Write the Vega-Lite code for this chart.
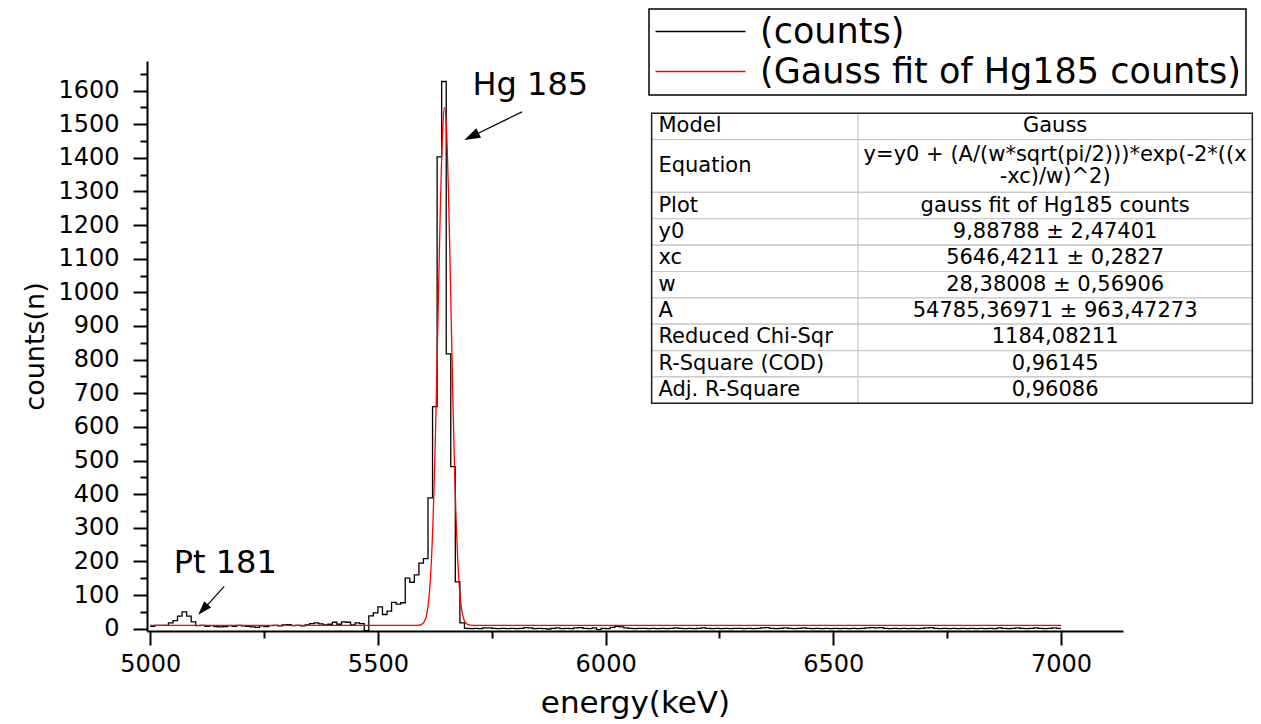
{
  "$schema": "https://vega.github.io/schema/vega-lite/v6.json",
  "width": 976,
  "height": 570,
  "autosize": {"type": "none"},
  "padding": {"left": 147, "top": 61, "right": 138, "bottom": 93},
  "background": "white",
  "config": {
    "view": {"stroke": null},
    "font": "DejaVu Sans",
    "axis": {
      "grid": false,
      "domainColor": "#000",
      "domainWidth": 2,
      "tickColor": "#000",
      "tickWidth": 2,
      "labelFont": "DejaVu Sans",
      "labelFontSize": 24,
      "labelColor": "#000",
      "labelOverlap": false,
      "labelFlush": false,
      "titleFont": "DejaVu Sans",
      "titleFontWeight": "normal",
      "titleColor": "#000"
    },
    "legend": {"strokeWidth": 1.5}
  },
  "datasets": {
    "counts": [
      {"energy": 5000, "counts": 7}, {"energy": 5010, "counts": 10}, {"energy": 5020, "counts": 10}, {"energy": 5030, "counts": 10}, {"energy": 5040, "counts": 17},
      {"energy": 5050, "counts": 24}, {"energy": 5060, "counts": 37}, {"energy": 5070, "counts": 50}, {"energy": 5080, "counts": 37}, {"energy": 5090, "counts": 20},
      {"energy": 5100, "counts": 9}, {"energy": 5110, "counts": 10}, {"energy": 5120, "counts": 7}, {"energy": 5130, "counts": 9}, {"energy": 5140, "counts": 6},
      {"energy": 5150, "counts": 5}, {"energy": 5160, "counts": 6}, {"energy": 5170, "counts": 9}, {"energy": 5180, "counts": 7}, {"energy": 5190, "counts": 10},
      {"energy": 5200, "counts": 8}, {"energy": 5210, "counts": 7}, {"energy": 5220, "counts": 5}, {"energy": 5230, "counts": 4}, {"energy": 5240, "counts": 8},
      {"energy": 5250, "counts": 6}, {"energy": 5260, "counts": 9}, {"energy": 5270, "counts": 10}, {"energy": 5280, "counts": 8}, {"energy": 5290, "counts": 11},
      {"energy": 5300, "counts": 12}, {"energy": 5310, "counts": 9}, {"energy": 5320, "counts": 10}, {"energy": 5330, "counts": 8}, {"energy": 5340, "counts": 11},
      {"energy": 5350, "counts": 15}, {"energy": 5360, "counts": 17}, {"energy": 5370, "counts": 14}, {"energy": 5380, "counts": 11}, {"energy": 5390, "counts": 13},
      {"energy": 5400, "counts": 19}, {"energy": 5410, "counts": 13}, {"energy": 5420, "counts": 20}, {"energy": 5430, "counts": 19}, {"energy": 5440, "counts": 11},
      {"energy": 5450, "counts": 17}, {"energy": 5460, "counts": 15}, {"energy": 5470, "counts": -6}, {"energy": 5480, "counts": 38}, {"energy": 5490, "counts": 47},
      {"energy": 5500, "counts": 65}, {"energy": 5510, "counts": 42}, {"energy": 5520, "counts": 52}, {"energy": 5530, "counts": 78}, {"energy": 5540, "counts": 73},
      {"energy": 5550, "counts": 77}, {"energy": 5560, "counts": 150}, {"energy": 5570, "counts": 138}, {"energy": 5580, "counts": 160}, {"energy": 5590, "counts": 195},
      {"energy": 5600, "counts": 208}, {"energy": 5610, "counts": 389}, {"energy": 5620, "counts": 660}, {"energy": 5630, "counts": 1403}, {"energy": 5640, "counts": 1627},
      {"energy": 5650, "counts": 817}, {"energy": 5660, "counts": 482}, {"energy": 5670, "counts": 139}, {"energy": 5680, "counts": 17}, {"energy": 5690, "counts": 1},
      {"energy": 5700, "counts": 0}, {"energy": 5710, "counts": 1}, {"energy": 5720, "counts": 0}, {"energy": 5730, "counts": 2}, {"energy": 5740, "counts": 2},
      {"energy": 5750, "counts": 1}, {"energy": 5760, "counts": 0}, {"energy": 5770, "counts": 1}, {"energy": 5780, "counts": 0}, {"energy": 5790, "counts": 1},
      {"energy": 5800, "counts": 0}, {"energy": 5810, "counts": 1}, {"energy": 5820, "counts": 3}, {"energy": 5830, "counts": 2}, {"energy": 5840, "counts": 0},
      {"energy": 5850, "counts": 1}, {"energy": 5860, "counts": 0}, {"energy": 5870, "counts": -1}, {"energy": 5880, "counts": 1}, {"energy": 5890, "counts": 2},
      {"energy": 5900, "counts": 0}, {"energy": 5910, "counts": 1}, {"energy": 5920, "counts": 0}, {"energy": 5930, "counts": 2}, {"energy": 5940, "counts": 3},
      {"energy": 5950, "counts": 1}, {"energy": 5960, "counts": 0}, {"energy": 5970, "counts": 2}, {"energy": 5980, "counts": -3}, {"energy": 5990, "counts": 1},
      {"energy": 6000, "counts": 0}, {"energy": 6010, "counts": 4}, {"energy": 6020, "counts": 7}, {"energy": 6030, "counts": 5}, {"energy": 6040, "counts": 2},
      {"energy": 6050, "counts": 1}, {"energy": 6060, "counts": 0}, {"energy": 6070, "counts": 1}, {"energy": 6080, "counts": 1}, {"energy": 6090, "counts": 0},
      {"energy": 6100, "counts": 1}, {"energy": 6110, "counts": 0}, {"energy": 6120, "counts": 1}, {"energy": 6130, "counts": 0}, {"energy": 6140, "counts": 1},
      {"energy": 6150, "counts": 2}, {"energy": 6160, "counts": 1}, {"energy": 6170, "counts": 0}, {"energy": 6180, "counts": 1}, {"energy": 6190, "counts": 0},
      {"energy": 6200, "counts": 1}, {"energy": 6210, "counts": 2}, {"energy": 6220, "counts": 1}, {"energy": 6230, "counts": 0}, {"energy": 6240, "counts": 1},
      {"energy": 6250, "counts": 0}, {"energy": 6260, "counts": 1}, {"energy": 6270, "counts": 0}, {"energy": 6280, "counts": 1}, {"energy": 6290, "counts": 1},
      {"energy": 6300, "counts": 0}, {"energy": 6310, "counts": 1}, {"energy": 6320, "counts": 0}, {"energy": 6330, "counts": 1}, {"energy": 6340, "counts": 2},
      {"energy": 6350, "counts": 3}, {"energy": 6360, "counts": 1}, {"energy": 6370, "counts": 0}, {"energy": 6380, "counts": 1}, {"energy": 6390, "counts": 2},
      {"energy": 6400, "counts": 1}, {"energy": 6410, "counts": 0}, {"energy": 6420, "counts": 1}, {"energy": 6430, "counts": 2}, {"energy": 6440, "counts": 1},
      {"energy": 6450, "counts": 0}, {"energy": 6460, "counts": 1}, {"energy": 6470, "counts": 0}, {"energy": 6480, "counts": 1}, {"energy": 6490, "counts": 0},
      {"energy": 6500, "counts": 1}, {"energy": 6510, "counts": 0}, {"energy": 6520, "counts": 1}, {"energy": 6530, "counts": 0}, {"energy": 6540, "counts": 1},
      {"energy": 6550, "counts": 0}, {"energy": 6560, "counts": 1}, {"energy": 6570, "counts": 2}, {"energy": 6580, "counts": 3}, {"energy": 6590, "counts": 2},
      {"energy": 6600, "counts": 3}, {"energy": 6610, "counts": 1}, {"energy": 6620, "counts": 0}, {"energy": 6630, "counts": 1}, {"energy": 6640, "counts": 0},
      {"energy": 6650, "counts": 1}, {"energy": 6660, "counts": 0}, {"energy": 6670, "counts": 1}, {"energy": 6680, "counts": 0}, {"energy": 6690, "counts": 1},
      {"energy": 6700, "counts": 2}, {"energy": 6710, "counts": 3}, {"energy": 6720, "counts": 1}, {"energy": 6730, "counts": 0}, {"energy": 6740, "counts": 1},
      {"energy": 6750, "counts": 0}, {"energy": 6760, "counts": 1}, {"energy": 6770, "counts": 0}, {"energy": 6780, "counts": 1}, {"energy": 6790, "counts": 0},
      {"energy": 6800, "counts": 1}, {"energy": 6810, "counts": 0}, {"energy": 6820, "counts": 1}, {"energy": 6830, "counts": 0}, {"energy": 6840, "counts": 1},
      {"energy": 6850, "counts": 0}, {"energy": 6860, "counts": 2}, {"energy": 6870, "counts": 1}, {"energy": 6880, "counts": 0}, {"energy": 6890, "counts": 1},
      {"energy": 6900, "counts": 2}, {"energy": 6910, "counts": 1}, {"energy": 6920, "counts": 0}, {"energy": 6930, "counts": 1}, {"energy": 6940, "counts": 2},
      {"energy": 6950, "counts": 1}, {"energy": 6960, "counts": 0}, {"energy": 6970, "counts": 1}, {"energy": 6980, "counts": 2}, {"energy": 6990, "counts": 1},
      {"energy": 7000, "counts": 1}
    ],
    "fit": [
      {"energy": 5000, "fit": 9.89}, {"energy": 5560, "fit": 9.89}, {"energy": 5580, "fit": 9.91}, {"energy": 5590, "fit": 10.46},
      {"energy": 5595, "fit": 12.05}, {"energy": 5600, "fit": 17.19}, {"energy": 5602.5, "fit": 22.7}, {"energy": 5605, "fit": 31.64},
      {"energy": 5607.5, "fit": 45.7}, {"energy": 5610, "fit": 67.0}, {"energy": 5612.5, "fit": 98.3}, {"energy": 5615, "fit": 142.6},
      {"energy": 5617.5, "fit": 202.9}, {"energy": 5620, "fit": 282.0}, {"energy": 5622.5, "fit": 381.9}, {"energy": 5625, "fit": 502.8},
      {"energy": 5627.5, "fit": 643.1}, {"energy": 5630, "fit": 798.5}, {"energy": 5632.5, "fit": 961.8}, {"energy": 5635, "fit": 1124.1},
      {"energy": 5637.5, "fit": 1274.0}, {"energy": 5640, "fit": 1400.3}, {"energy": 5643, "fit": 1506.1}, {"energy": 5646.4, "fit": 1550.2},
      {"energy": 5650, "fit": 1501.9}, {"energy": 5652.5, "fit": 1415.1}, {"energy": 5655, "fit": 1292.8}, {"energy": 5657.5, "fit": 1145.4},
      {"energy": 5660, "fit": 984.2}, {"energy": 5662.5, "fit": 820.4}, {"energy": 5665, "fit": 663.5}, {"energy": 5667.5, "fit": 520.8},
      {"energy": 5670, "fit": 397.1}, {"energy": 5672.5, "fit": 294.4}, {"energy": 5675, "fit": 212.5}, {"energy": 5677.5, "fit": 149.8},
      {"energy": 5680, "fit": 103.5}, {"energy": 5682.5, "fit": 70.7}, {"energy": 5685, "fit": 48.1}, {"energy": 5687.5, "fit": 33.2},
      {"energy": 5690, "fit": 23.7}, {"energy": 5695, "fit": 14.3}, {"energy": 5700, "fit": 11.1}, {"energy": 5705, "fit": 10.2},
      {"energy": 5710, "fit": 9.96}, {"energy": 5720, "fit": 9.89}, {"energy": 7000, "fit": 9.89}
    ],
    "table": [
      {"param": "Model", "value": "Gauss", "r0": 0, "r1": 1, "mid": 0.5, "vmid": 0.5},
      {"param": "Equation", "value": "y=y0 + (A/(w*sqrt(pi/2)))*exp(-2*((x\n-xc)/w)^2)", "r0": 1, "r1": 3, "mid": 2, "vmid": 1.6},
      {"param": "Plot", "value": "gauss fit of Hg185 counts", "r0": 3, "r1": 4, "mid": 3.5, "vmid": 3.5},
      {"param": "y0", "value": "9,88788 ± 2,47401", "r0": 4, "r1": 5, "mid": 4.5, "vmid": 4.5},
      {"param": "xc", "value": "5646,4211 ± 0,2827", "r0": 5, "r1": 6, "mid": 5.5, "vmid": 5.5},
      {"param": "w", "value": "28,38008 ± 0,56906", "r0": 6, "r1": 7, "mid": 6.5, "vmid": 6.5},
      {"param": "A", "value": "54785,36971 ± 963,47273", "r0": 7, "r1": 8, "mid": 7.5, "vmid": 7.5},
      {"param": "Reduced Chi-Sqr", "value": "1184,08211", "r0": 8, "r1": 9, "mid": 8.5, "vmid": 8.5},
      {"param": "R-Square (COD)", "value": "0,96145", "r0": 9, "r1": 10, "mid": 9.5, "vmid": 9.5},
      {"param": "Adj. R-Square", "value": "0,96086", "r0": 10, "r1": 11, "mid": 10.5, "vmid": 10.5}
    ]
  },
  "layer": [
    {
      "data": {"name": "counts"},
      "mark": {"type": "line", "interpolate": "step-after", "strokeWidth": 1.3},
      "encoding": {
        "x": {
          "field": "energy", "type": "quantitative",
          "scale": {"domain": [4993, 7136], "nice": false, "zero": false},
          "axis": {
            "orient": "bottom",
            "title": "energy(keV)",
            "titleFontSize": 31,
            "titlePadding": 12,
            "values": [5000, 5500, 6000, 6500, 7000],
            "format": "d",
            "tickSize": 14,
            "labelPadding": 7
          }
        },
        "y": {
          "field": "counts", "type": "quantitative",
          "scale": {"domain": [-7, 1688], "nice": false, "zero": false},
          "axis": {
            "orient": "left",
            "title": "counts(n)",
            "titleFontSize": 27,
            "titlePadding": 8,
            "values": [0, 100, 200, 300, 400, 500, 600, 700, 800, 900, 1000, 1100, 1200, 1300, 1400, 1500, 1600],
            "format": "d",
            "tickSize": 14,
            "labelPadding": 14
          }
        },
        "color": {
          "datum": "(counts)",
          "scale": {"domain": ["(counts)", "(Gauss fit of Hg185 counts)"], "range": ["#000000", "#ff0000"]},
          "legend": {
            "title": null,
            "orient": "none",
            "legendX": 502,
            "legendY": -52,
            "strokeColor": "#000000",
            "padding": 5,
            "symbolType": "M-5,0H5",
            "symbolSize": 324,
            "symbolStrokeWidth": 1.5,
            "symbolOffset": 29,
            "labelFont": "DejaVu Sans",
            "labelFontSize": 35,
            "labelColor": "#000000",
            "labelOffset": 42,
            "labelLimit": 800,
            "rowPadding": 4
          }
        }
      }
    },
    {
      "data": {"name": "fit"},
      "mark": {"type": "line", "interpolate": "monotone", "strokeWidth": 1.3},
      "encoding": {
        "x": {
          "field": "energy", "type": "quantitative",
          "axis": {"orient": "bottom", "values": [5250, 5750, 6250, 6750], "tickSize": 7, "labels": false, "domain": false, "title": null}
        },
        "y": {
          "field": "fit", "type": "quantitative",
          "scale": {"domain": [-7, 1688], "nice": false, "zero": false},
          "axis": {"orient": "left", "values": [50, 150, 250, 350, 450, 550, 650, 750, 850, 950, 1050, 1150, 1250, 1350, 1450, 1550, 1650], "tickSize": 7, "labels": false, "domain": false, "title": null}
        },
        "color": {"datum": "(Gauss fit of Hg185 counts)"}
      }
    },
    {
      "data": {"values": [{"label": "Hg 185"}]},
      "mark": {"type": "text", "font": "DejaVu Sans", "fontSize": 32, "align": "center", "baseline": "alphabetic", "color": "#000"},
      "encoding": {
        "x": {"datum": 5834.7, "axis": null},
        "y": {"datum": 1586.5, "scale": {"domain": [-7, 1688], "nice": false, "zero": false}, "axis": null},
        "text": {"field": "label"}
      }
    },
    {
      "data": {"values": [{"label": "Pt 181"}]},
      "mark": {"type": "text", "font": "DejaVu Sans", "fontSize": 32, "align": "center", "baseline": "alphabetic", "color": "#000"},
      "encoding": {
        "x": {"datum": 5164.7, "axis": null},
        "y": {"datum": 165.5, "scale": {"domain": [-7, 1688], "nice": false, "zero": false}, "axis": null},
        "text": {"field": "label"}
      }
    },
    {
      "data": {"values": [{}]},
      "mark": {"type": "rule", "color": "#000", "strokeWidth": 1.2},
      "encoding": {
        "x": {"datum": 5816.5, "axis": null},
        "y": {"datum": 1536.8, "scale": {"domain": [-7, 1688], "nice": false, "zero": false}, "axis": null},
        "x2": {"datum": 5700},
        "y2": {"datum": 1460}
      }
    },
    {
      "data": {"values": [{}]},
      "mark": {"type": "point", "shape": "M0,0L-1,-0.33L-1,0.33Z", "filled": true, "color": "#000", "opacity": 1, "size": 1024, "angle": 153.9},
      "encoding": {
        "x": {"datum": 5689.7, "axis": null},
        "y": {"datum": 1452.8, "scale": {"domain": [-7, 1688], "nice": false, "zero": false}, "axis": null}
      }
    },
    {
      "data": {"values": [{}]},
      "mark": {"type": "rule", "color": "#000", "strokeWidth": 1.2},
      "encoding": {
        "x": {"datum": 5162.5, "axis": null},
        "y": {"datum": 125.7, "scale": {"domain": [-7, 1688], "nice": false, "zero": false}, "axis": null},
        "x2": {"datum": 5112},
        "y2": {"datum": 50}
      }
    },
    {
      "data": {"values": [{}]},
      "mark": {"type": "point", "shape": "M0,0L-1,-0.33L-1,0.33Z", "filled": true, "color": "#000", "opacity": 1, "size": 784, "angle": 132.6},
      "encoding": {
        "x": {"datum": 5105.4, "axis": null},
        "y": {"datum": 41.6, "scale": {"domain": [-7, 1688], "nice": false, "zero": false}, "axis": null}
      }
    },
    {
      "data": {"name": "table"},
      "mark": {"type": "rect", "fill": "#ffffff", "stroke": "#c8c8c8", "strokeWidth": 1.2, "clip": false},
      "encoding": {
        "x": {"datum": 6101, "axis": null},
        "x2": {"datum": 7420},
        "y": {"field": "r0", "type": "quantitative", "scale": {"domain": [-1.984, 19.636], "reverse": true, "nice": false, "zero": false}, "axis": null},
        "y2": {"field": "r1"}
      }
    },
    {
      "data": {"name": "table"},
      "mark": {"type": "rule", "color": "#c8c8c8", "strokeWidth": 1.2, "clip": false},
      "encoding": {
        "x": {"datum": 6554, "axis": null},
        "y": {"field": "r0", "type": "quantitative", "scale": {"domain": [-1.984, 19.636], "reverse": true, "nice": false, "zero": false}, "axis": null},
        "y2": {"field": "r1"}
      }
    },
    {
      "data": {"values": [{}]},
      "mark": {"type": "rect", "fillOpacity": 0, "stroke": "#222222", "strokeWidth": 1.5, "clip": false},
      "encoding": {
        "x": {"datum": 6101, "axis": null},
        "x2": {"datum": 7420},
        "y": {"datum": 0, "scale": {"domain": [-1.984, 19.636], "reverse": true, "nice": false, "zero": false}, "axis": null},
        "y2": {"datum": 11}
      }
    },
    {
      "data": {"name": "table"},
      "mark": {"type": "text", "font": "DejaVu Sans", "fontSize": 21, "align": "left", "baseline": "middle", "color": "#000", "clip": false},
      "encoding": {
        "x": {"datum": 6116, "axis": null},
        "y": {"field": "mid", "type": "quantitative", "scale": {"domain": [-1.984, 19.636], "reverse": true, "nice": false, "zero": false}, "axis": null},
        "text": {"field": "param"}
      }
    },
    {
      "data": {"name": "table"},
      "mark": {"type": "text", "font": "DejaVu Sans", "fontSize": 21, "align": "center", "baseline": "middle", "color": "#000", "lineBreak": "\n", "lineHeight": 21.5, "clip": false},
      "encoding": {
        "x": {"datum": 6987, "axis": null},
        "y": {"field": "vmid", "type": "quantitative", "scale": {"domain": [-1.984, 19.636], "reverse": true, "nice": false, "zero": false}, "axis": null},
        "text": {"field": "value"}
      }
    }
  ],
  "resolve": {"scale": {"y": "independent"}, "axis": {"x": "independent", "y": "independent"}}
}
